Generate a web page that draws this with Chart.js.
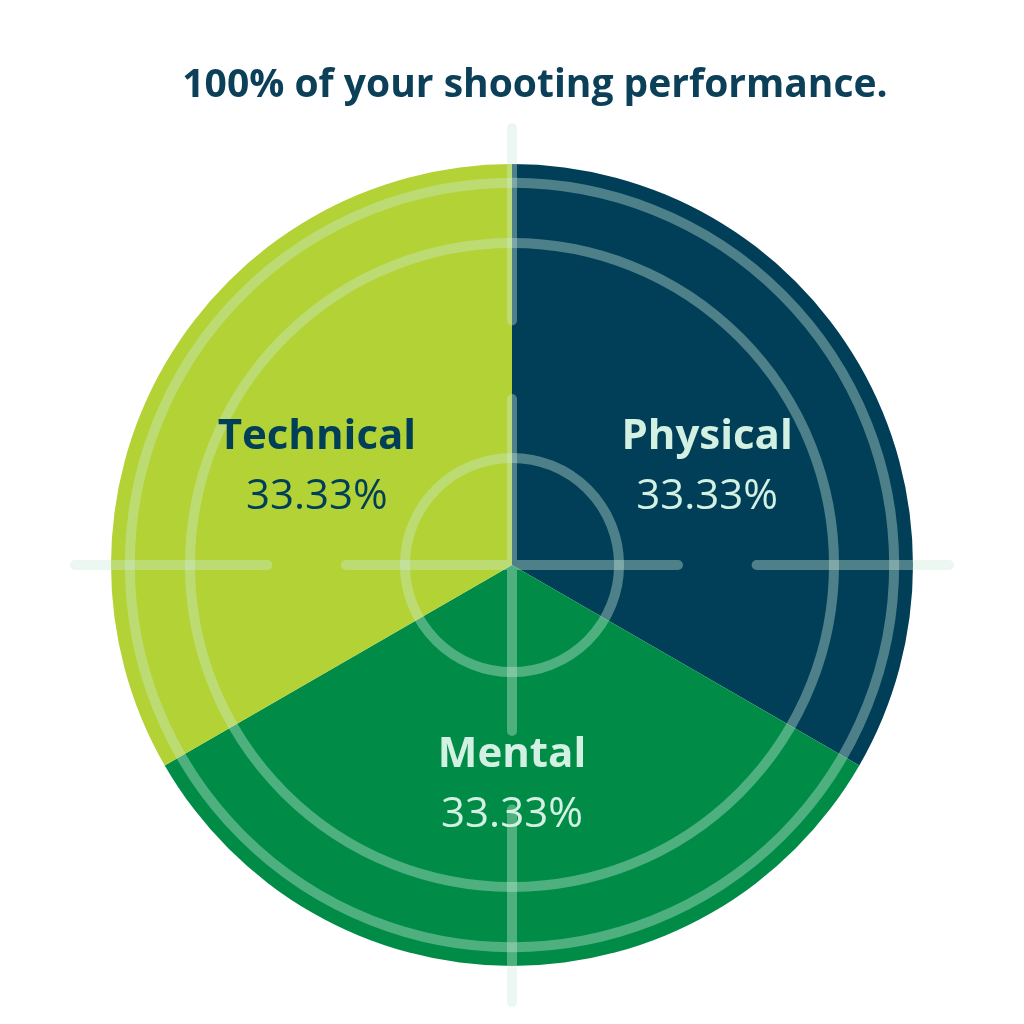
<!DOCTYPE html>
<html>
<head>
<meta charset="utf-8">
<script src="https://cdn.jsdelivr.net/npm/chart.js@4"></script>
<style>
  html, body { margin: 0; padding: 0; background: #ffffff; }
  #wrap { width: 1024px; height: 1024px; position: relative; }
</style>
</head>
<body>
<div id="wrap"><canvas id="pieChart" width="1024" height="1024"></canvas></div>
<script>
// data
const titleText = '100% of your shooting performance.';
const categories = ['Physical', 'Mental', 'Technical'];
const shares = [33.33, 33.33, 33.33];
const sliceColors = ['#003f57', '#008c47', '#b2d235'];
const labelColors = ['#d3f1e3', '#d3f1e3', '#003f57'];

// crosshair / target rings drawn over the pie
const targetOverlay = {
  id: 'targetOverlay',
  afterDatasetsDraw(chart) {
    const arc = chart.getDatasetMeta(0).data[0];
    if (!arc) return;
    const { x, y, outerRadius: R } = arc.getProps(['x', 'y', 'outerRadius'], true);
    const ctx = chart.ctx;
    ctx.save();
    ctx.strokeStyle = 'rgba(205,234,218,0.38)';
    ctx.lineWidth = 10;
    ctx.lineCap = 'round';
    // rings
    [0.953, 0.803, 0.267].forEach(f => {
      ctx.beginPath();
      ctx.arc(x, y, R * f, 0, Math.PI * 2);
      ctx.stroke();
    });
    // cross segments (distance from centre, fraction of R)
    const segs = [[0, 0.414], [0.61, 1.09]];
    ctx.beginPath();
    segs.forEach(([a, b]) => {
      if (a === 0) {
        ctx.moveTo(x - R * b, y); ctx.lineTo(x + R * b, y);
        ctx.moveTo(x, y - R * b); ctx.lineTo(x, y + R * b);
      } else {
        ctx.moveTo(x - R * b, y); ctx.lineTo(x - R * a, y);
        ctx.moveTo(x + R * a, y); ctx.lineTo(x + R * b, y);
        ctx.moveTo(x, y - R * b); ctx.lineTo(x, y - R * a);
        ctx.moveTo(x, y + R * a); ctx.lineTo(x, y + R * b);
      }
    });
    ctx.stroke();
    ctx.restore();
  }
};

// slice labels: name + percent
const sliceLabels = {
  id: 'sliceLabels',
  afterDraw(chart) {
    const ctx = chart.ctx;
    const meta = chart.getDatasetMeta(0);
    ctx.save();
    ctx.textAlign = 'center';
    ctx.textBaseline = 'middle';
    meta.data.forEach((el, i) => {
      const p = el.getProps(['x', 'y', 'startAngle', 'endAngle', 'outerRadius'], true);
      const mid = (p.startAngle + p.endAngle) / 2;
      const r = p.outerRadius * 0.53;
      const cx = p.x + Math.cos(mid) * r * 1.06;
      const cy = p.y + Math.sin(mid) * r + 8;
      ctx.fillStyle = labelColors[i];
      ctx.font = 'bold 42px "Open Sans", "Noto Sans", sans-serif';
      ctx.fillText(categories[i], cx, cy - 30);
      ctx.font = '42px "Open Sans", "Noto Sans", sans-serif';
      ctx.fillText(shares[i].toFixed(2) + '%', cx, cy + 30);
    });
    // title
    ctx.fillStyle = '#0b4058';
    ctx.font = 'bold 39px "Open Sans", "Noto Sans", sans-serif';
    ctx.fillText(titleText, 535, 86);
    ctx.restore();
  }
};

new Chart(document.getElementById('pieChart'), {
  type: 'pie',
  data: {
    labels: categories,
    datasets: [{
      data: shares,
      backgroundColor: sliceColors,
      borderWidth: 0
    }]
  },
  options: {
    responsive: false,
    animation: false,
    layout: { padding: { top: 164, bottom: 58, left: 111, right: 111 } },
    plugins: {
      legend: { display: false },
      tooltip: { enabled: false },
      title: { display: false }
    }
  },
  plugins: [targetOverlay, sliceLabels]
});
</script>
</body>
</html>
